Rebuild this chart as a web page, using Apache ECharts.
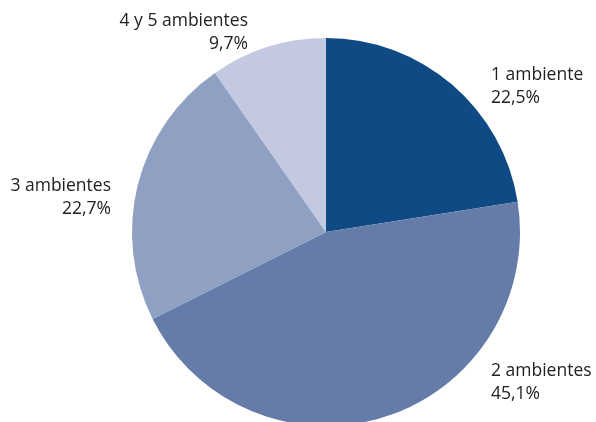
<!DOCTYPE html>
<html>
<head>
<meta charset="utf-8">
<script src="https://cdn.jsdelivr.net/npm/echarts@6/dist/echarts.min.js"></script>
<style>
  html, body { margin: 0; padding: 0; background: #ffffff; }
  #chart { width: 596px; height: 422px; }
</style>
</head>
<body>
<div id="chart"></div>
<script>
// Household distribution by number of rooms
const categories = ['1 ambiente', '2 ambientes', '3 ambientes', '4 y 5 ambientes'];
const shares = [22.5, 45.1, 22.7, 9.7];
const colors = ['#0f4a85', '#667ca8', '#8fa0c2', '#c3c9e0'];

// Label anchor per slice: [x, y, align]
const labelSpots = [
  [491, 64, 'left'],
  [491, 360, 'left'],
  [111, 175, 'right'],
  [248, 10, 'right']
];

const fmt = v => v.toFixed(1).replace('.', ',') + '%';

const chart = echarts.init(document.getElementById('chart'), null, { renderer: 'canvas' });
chart.setOption({
  animation: false,
  backgroundColor: '#ffffff',
  series: [{
    type: 'pie',
    center: [326, 232],
    radius: 194,
    startAngle: 90,
    clockwise: true,
    data: categories.map((c, i) => ({
      name: c,
      value: shares[i],
      itemStyle: { color: colors[i] },
      label: { align: labelSpots[i][2] }
    })),
    label: {
      show: true,
      position: 'outside',
      alignTo: 'none',
      overflow: 'none',
      bleedMargin: 0,
      formatter: p => p.name + '\n' + fmt(p.value),
      fontFamily: 'Open Sans',
      fontSize: 17.5,
      lineHeight: 23,
      color: '#222222',
      verticalAlign: 'top'
    },
    labelLine: { show: false },
    labelLayout: p => ({
      x: labelSpots[p.dataIndex][0],
      y: labelSpots[p.dataIndex][1],
      align: labelSpots[p.dataIndex][2],
      verticalAlign: 'top'
    }),
    emphasis: { disabled: true }
  }]
});
</script>
</body>
</html>
